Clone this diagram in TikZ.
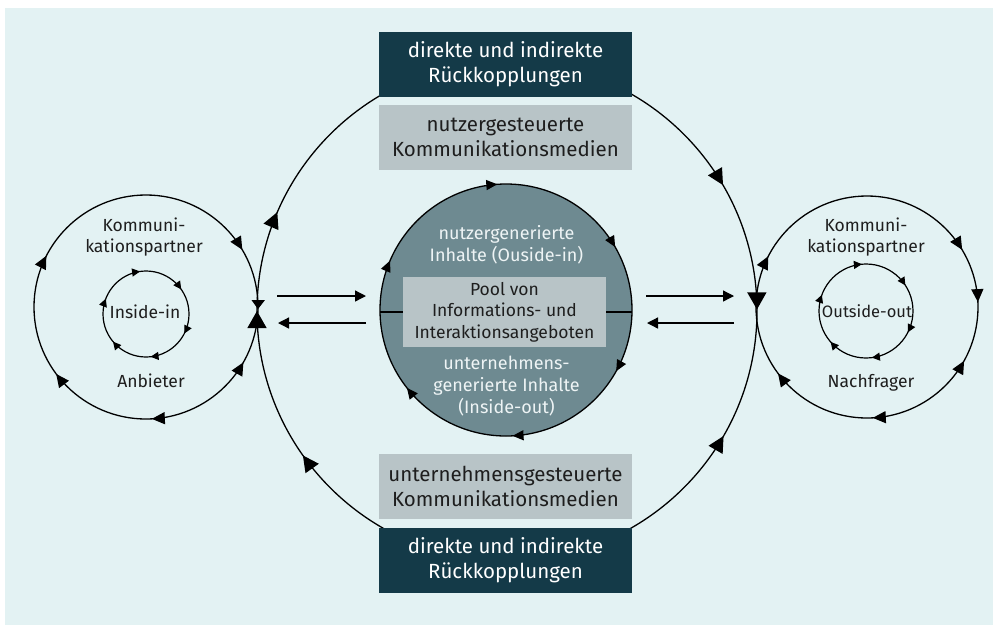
\documentclass[tikz,border=0pt]{standalone}
\usepackage{fontspec}
\setmainfont{Fira Sans}
\usetikzlibrary{arrows.meta,decorations.markings}
\definecolor{bg}{HTML}{E3F2F3}
\definecolor{darkbox}{HTML}{143A48}
\definecolor{lightbox}{HTML}{B8C4C7}
\definecolor{poolfill}{HTML}{6E8A91}
\definecolor{ink}{HTML}{1E1E1E}
\definecolor{paletext}{HTML}{EEF4F5}
\tikzset{
  bigtri/.tip={Triangle[length=17pt,width=19pt]},
  widetri/.tip={Triangle[length=16pt,width=16pt]},
  outertri/.tip={Triangle[length=13pt,width=12pt]},
  downtri/.tip={Triangle[length=9pt,width=13pt]},
  poolatri/.tip={Triangle[length=11pt,width=10pt]},
  innertri/.tip={Triangle[length=8pt,width=8pt]},
}
\begin{document}
\begin{tikzpicture}[x=1pt,y=-1pt,
  ring/.style={draw=black,line width=1.3pt},
  boxdark/.style={fill=darkbox,text=white,minimum width=253pt,minimum height=65pt,
    inner sep=0pt,align=center,font=\fontsize{20.5}{25}\selectfont},
  boxlight/.style={fill=lightbox,text=ink,minimum width=253pt,minimum height=65pt,
    inner sep=0pt,align=center,font=\fontsize{20.5}{25}\selectfont},
  pooltext/.style={text=paletext,align=center,inner sep=0pt,font=\fontsize{18}{22}\selectfont},
  ringlabel/.style={text=ink,align=center,inner sep=0pt,font=\fontsize{17.5}{21}\selectfont},
  pointer/.style={draw=black,line width=1.3pt,-{Triangle[length=11pt,width=11pt]}},
]
% canvas
\useasboundingbox (0,0) rectangle (993,625);
\fill[bg] (5,8) rectangle (993,625);

% centres
\coordinate (bigc) at (507,311);
\coordinate (leftc) at (146,307);
\coordinate (rightc) at (867,307);
\coordinate (leftin) at (146,314);
\coordinate (rightin) at (866,311);
\coordinate (poolc) at (506,310);

% large feedback loop (partly hidden by the boxes)
\draw[ring,postaction=decorate,decoration={markings,
  mark=at position 0.0833 with {\arrowreversed{widetri}},
  mark=at position 0.402 with {\arrow{widetri}},
  mark=at position 0.5 with {\arrow{bigtri}},
  mark=at position 0.5647 with {\arrow{widetri}},
  mark=at position 0.916 with {\arrow{widetri}},
  mark=at position 0.999 with {\arrow{bigtri}}}]
  (bigc) circle[radius=250];

% left loop: Anbieter
\draw[ring,postaction=decorate,decoration={markings,
  mark=at position 0.003 with {\arrow{downtri}},
  mark=at position 0.0822 with {\arrowreversed{outertri}},
  mark=at position 0.2417 with {\arrow{outertri}},
  mark=at position 0.398 with {\arrow{outertri}},
  mark=at position 0.5756 with {\arrow{outertri}},
  mark=at position 0.9147 with {\arrow{outertri}}}]
  (leftc) circle[radius=112];
\draw[ring,line width=1.2pt,postaction=decorate,decoration={markings,
  mark=at position 0.075 with {\arrow{innertri}},
  mark=at position 0.233 with {\arrow{innertri}},
  mark=at position 0.389 with {\arrow{innertri}},
  mark=at position 0.558 with {\arrow{innertri}},
  mark=at position 0.728 with {\arrow{innertri}},
  mark=at position 0.903 with {\arrow{innertri}}}]
  (leftin) circle[radius=43];

% right loop: Nachfrager
\draw[ring,postaction=decorate,decoration={markings,
  mark=at position 0.0806 with {\arrowreversed{outertri}},
  mark=at position 0.2417 with {\arrow{outertri}},
  mark=at position 0.398 with {\arrow{outertri}},
  mark=at position 0.5756 with {\arrow{outertri}},
  mark=at position 0.9139 with {\arrow{outertri}},
  mark=at position 0.993 with {\arrow{outertri}}}]
  (rightc) circle[radius=111];
\draw[ring,line width=1.2pt,postaction=decorate,decoration={markings,
  mark=at position 0.075 with {\arrow{innertri}},
  mark=at position 0.230 with {\arrow{innertri}},
  mark=at position 0.386 with {\arrow{innertri}},
  mark=at position 0.556 with {\arrow{innertri}},
  mark=at position 0.736 with {\arrow{innertri}},
  mark=at position 0.908 with {\arrow{innertri}}}]
  (rightin) circle[radius=47];

% central pool
\draw[ring,fill=poolfill,postaction=decorate,decoration={markings,
  mark=at position 0.0806 with {\arrow{poolatri}},
  mark=at position 0.2417 with {\arrow{poolatri}},
  mark=at position 0.394 with {\arrow{poolatri}},
  mark=at position 0.564 with {\arrow{poolatri}},
  mark=at position 0.739 with {\arrow{poolatri}},
  mark=at position 0.9167 with {\arrow{poolatri}}}]
  (poolc) circle[radius=126];
\draw[black,line width=1.2pt] (380,312) -- (632,312);

\node[fill=lightbox,text=ink,minimum width=203pt,minimum height=70pt,inner sep=0pt,
  align=center,font=\fontsize{17.5}{21.5}\selectfont] (poolbox) at (504.5,312)
  {Pool von\\Informations- und\\Interaktionsangeboten};
\node[pooltext] (usercontent) at (506.5,245) {nutzergenerierte\\Inhalte (Ouside-in)};
\node[pooltext] (firmcontent) at (506.5,386) {unternehmens-\\generierte Inhalte\\(Inside-out)};

% boxes on the large loop
\node[boxdark] (fbtop) at (505.5,64.5) {direkte und indirekte\\Rückkopplungen};
\node[boxlight] (usermedia) at (505.5,137.5) {nutzergesteuerte\\Kommunikationsmedien};
\node[boxlight] (firmmedia) at (505.5,486.5) {unternehmensgesteuerte\\Kommunikationsmedien};
\node[boxdark] (fbbottom) at (505.5,560.5) {direkte und indirekte\\Rückkopplungen};

% ring labels
\node[ringlabel] (leftpartner) at (144,237) {Kommuni-\\kationspartner};
\node[ringlabel,anchor=base] (anbieter) at (151,387) {Anbieter};
\node[ringlabel,anchor=base] (insidein) at (145,318) {Inside-in};
\node[ringlabel] (rightpartner) at (866,237) {Kommuni-\\kationspartner};
\node[ringlabel,anchor=base] (nachfrager) at (871,387) {Nachfrager};
\node[ringlabel,anchor=base,font=\fontsize{16.5}{20}\selectfont] (outsideout) at (867,317) {Outside-out};

% exchange arrows
\coordinate (la) at (277,296);
\coordinate (lb) at (366,296);
\coordinate (lc) at (366,323);
\coordinate (ld) at (278,323);
\coordinate (ra) at (646,296);
\coordinate (rb) at (734,296);
\coordinate (rc) at (734,323);
\coordinate (rd) at (647,323);
\draw[pointer] (la) -- (lb);
\draw[pointer] (lc) -- (ld);
\draw[pointer] (ra) -- (rb);
\draw[pointer] (rc) -- (rd);
\end{tikzpicture}
\end{document}
